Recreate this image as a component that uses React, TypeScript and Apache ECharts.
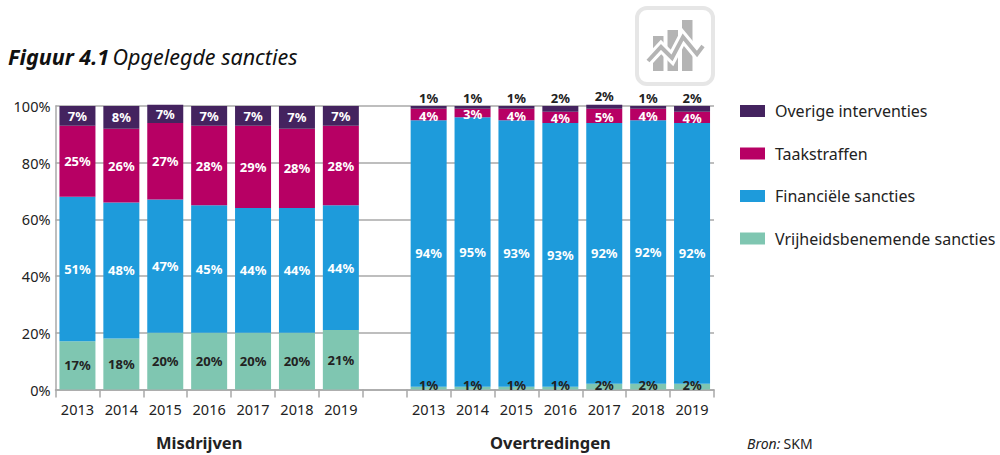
import React, { useEffect, useRef } from "react";
import * as echarts from "echarts";

const years = ["2013", "2014", "2015", "2016", "2017", "2018", "2019"];
const categories = [...years, "", ...years];

const names = ["Vrijheidsbenemende sancties", "Financiële sancties", "Taakstraffen", "Overige interventies"];
const colors = ["#7fc6b1", "#1e9bdb", "#b70064", "#44235f"];
const legendOrder = ["Overige interventies", "Taakstraffen", "Financiële sancties", "Vrijheidsbenemende sancties"];

// Bar heights as drawn in the picture
const misVrijheid = [17, 18, 20, 20, 20, 20, 21];
const misFinancieel = [51, 48, 47, 45, 44, 44, 44];
const misTaak = [25, 26, 27, 28, 29, 28, 28];
const misOverig = [7, 8, 6.4, 7, 7, 8, 7];
const ovVrijheid = [1, 1, 1, 1, 2, 2, 2];
const ovFinancieel = [94, 95, 94, 93, 92, 93, 92];
const ovTaak = [4, 3, 4, 4, 5, 4, 4];
const ovOverig = [1, 1, 1, 2, 1.4, 1, 2];

// Percentages as printed on the bars
const misOverigPrinted = [7, 8, 7, 7, 7, 7, 7];
const ovFinancieelPrinted = [94, 95, 93, 93, 92, 92, 92];
const ovOverigPrinted = [1, 1, 1, 2, 2, 1, 2];

const FONT = "'Noto Sans', sans-serif";
const DARK = "#222222";

function item(value: number, printed: number, label: any) {
  return { value, label: { show: true, formatter: printed + "%", ...label } };
}

function build(mis: number[], misP: number[], ov: number[], ovP: number[], misLabel: any, ovLabel: any) {
  return [
    ...mis.map((v, i) => item(v, misP[i], misLabel)),
    { value: null },
    ...ov.map((v, i) => item(v, ovP[i], ovLabel)),
  ];
}

const white = { color: "#ffffff", position: "inside" };
const dark = { color: DARK, position: "inside" };

const seriesData = [
  build(misVrijheid, misVrijheid, ovVrijheid, ovVrijheid, dark, { color: DARK, position: "insideBottom", distance: 0, offset: [0, 2] }),
  build(misFinancieel, misFinancieel, ovFinancieel, ovFinancieelPrinted, white, white),
  build(misTaak, misTaak, ovTaak, ovTaak, white, { ...white, offset: [0, 1] }),
  build(misOverig, misOverigPrinted, ovOverig, ovOverigPrinted, white, { color: DARK, position: "top", distance: 0, offset: [0, -2] }),
];

echarts.graphic.registerShape(
  "sketchIconFrame",
  echarts.graphic.extendPath("M10 0H66A10 10 0 0 1 76 10V66A10 10 0 0 1 66 76H10A10 10 0 0 1 0 66V10A10 10 0 0 1 10 0Z", {})
);

export default function App() {
  const ref = useRef<HTMLDivElement>(null);
  useEffect(() => {
    const chart = echarts.init(ref.current!, null, { renderer: "svg" });
    chart.setOption({
      animation: false,
      backgroundColor: "#ffffff",
      textStyle: { fontFamily: FONT },
      grid: { left: 55.5, right: 286, top: 106, bottom: 65.5, containLabel: false },
      legend: {
        data: legendOrder,
        orient: "vertical",
        left: 735,
        top: 98,
        itemWidth: 25,
        itemHeight: 12,
        itemGap: 26.5,
        icon: "rect",
        selectedMode: false,
        textStyle: { fontFamily: FONT, fontSize: 16, color: DARK, padding: [0, 0, 0, 5] },
      },
      xAxis: {
        type: "category",
        data: categories,
        axisLine: { lineStyle: { color: "#a8a8a8", width: 1.5 } },
        axisTick: { show: true, length: 8, alignWithLabel: false, lineStyle: { color: "#a8a8a8", width: 1.5 } },
        axisLabel: { interval: 0, color: DARK, fontSize: 14.5, fontFamily: FONT, margin: 12 },
      },
      yAxis: {
        type: "value",
        min: 0,
        max: 100,
        interval: 20,
        axisLine: { show: true, lineStyle: { color: "#a8a8a8", width: 1.5 } },
        axisTick: { show: false },
        axisLabel: { color: DARK, fontSize: 14.5, fontFamily: FONT, formatter: "{value}%", margin: 5 },
        splitLine: { show: true, lineStyle: { color: "#a8a8a8", width: 1.5 } },
      },
      series: names.map((name, i) => ({
        name,
        type: "bar",
        stack: "total",
        clip: false,
        barWidth: 36,
        itemStyle: { color: colors[i] },
        label: { show: true, fontFamily: FONT, fontSize: 13, fontWeight: "bold" },
        data: seriesData[i],
      })),
      graphic: [
        {
          type: "text",
          left: 8,
          top: 45,
          style: {
            text: "{b|Figuur 4.1} {i|Opgelegde sancties}",
            rich: {
              b: { fontFamily: FONT, fontSize: 21.5, fontWeight: "bold", fontStyle: "italic", fill: "#111111" },
              i: { fontFamily: FONT, fontSize: 21.5, fontStyle: "italic", fill: "#111111" },
            },
          },
        },
        { type: "text", left: 156, top: 434, style: { text: "Misdrijven", fontFamily: FONT, fontSize: 16.5, fontWeight: "bold", fill: "#222222" } },
        { type: "text", left: 490, top: 434, style: { text: "Overtredingen", fontFamily: FONT, fontSize: 16.5, fontWeight: "bold", fill: "#222222" } },
        { type: "text", left: 747, top: 436, style: { text: "{i|Bron:} {n|SKM}", rich: { i: { fontFamily: FONT, fontSize: 14, fontStyle: "italic", fill: "#222222" }, n: { fontFamily: FONT, fontSize: 14, fill: "#222222" } } } },
        {
          type: "group",
          silent: true,
          children: [
            { type: "sketchIconFrame", x: 637, y: 8, style: { fill: "#ffffff", stroke: "#e6e6e6", lineWidth: 4 } },
            { type: "rect", shape: { x: 653, y: 36, width: 10.5, height: 35 }, style: { fill: "#b4b4b4" } },
            { type: "rect", shape: { x: 667.5, y: 30, width: 10.5, height: 41 }, style: { fill: "#b4b4b4" } },
            { type: "rect", shape: { x: 682, y: 20, width: 10.5, height: 51 }, style: { fill: "#b4b4b4" } },
            { type: "polyline", shape: { points: [[648, 61], [661, 47], [672, 58], [683, 37], [697, 54], [703, 46]] }, style: { fill: "none", stroke: "#ffffff", lineWidth: 10, lineJoin: "miter" } },
            { type: "polyline", shape: { points: [[648, 61], [661, 47], [672, 58], [683, 37], [697, 54], [703, 46]] }, style: { fill: "none", stroke: "#b4b4b4", lineWidth: 4, lineJoin: "miter" } },
          ],
        },
      ],
    });
    return () => chart.dispose();
  }, []);
  return <div ref={ref} style={{ position: "absolute", left: 0, top: 0, width: 1000, height: 455 }} />;
}
